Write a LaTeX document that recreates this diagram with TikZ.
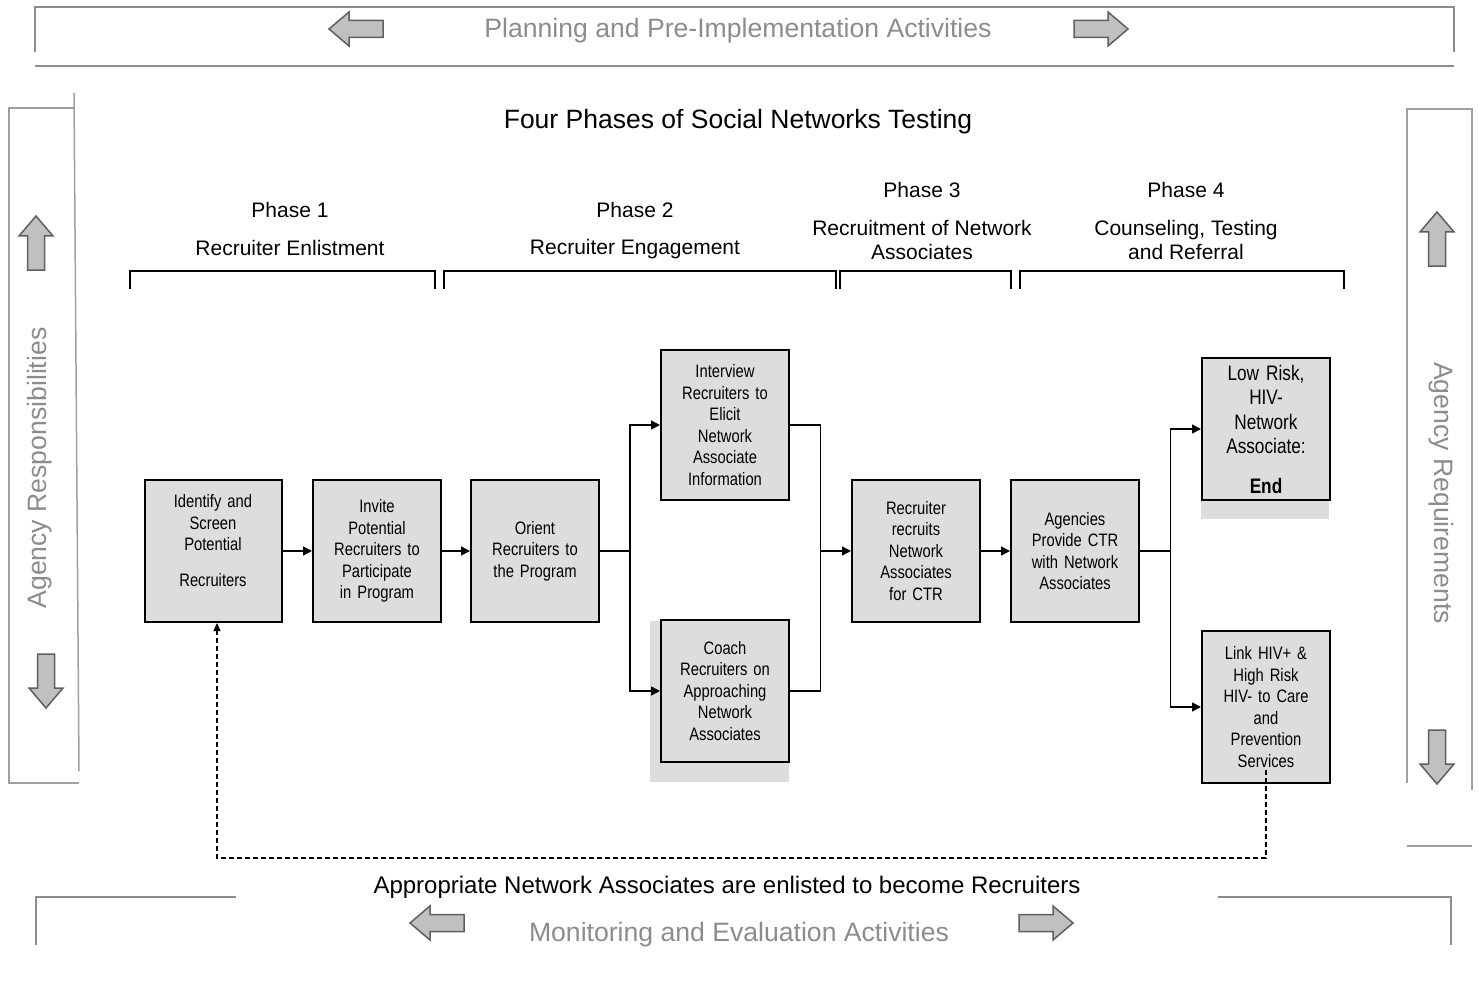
\documentclass[tikz,border=0pt]{standalone}
\usepackage{fontspec}
\setmainfont{Liberation Sans}
\newfontfamily\narrowfont{Liberation Sans}[FakeStretch=0.82]
\usepackage{tikz}
\usetikzlibrary{positioning,arrows.meta,calc}

\definecolor{boxgray}{HTML}{DDDDDD}
\definecolor{panelgray}{HTML}{8C8C8C}
\definecolor{linegray}{HTML}{A0A0A0}
\definecolor{fatfill}{HTML}{C0C0C0}
\definecolor{fatline}{HTML}{5F5F5F}

\tikzset{
  pics/fatarrow/.style={code={
    \draw[fill=fatfill, draw=fatline, line width=1.5pt]
      (-27,-8.5) -- (7,-8.5) -- (7,-17) -- (27,0) -- (7,17) -- (7,8.5) -- (-27,8.5) -- cycle;
  }}
}

\begin{document}
\begin{tikzpicture}[x=1pt, y=-1pt, on grid,
    box/.style={draw, line width=2pt, fill=boxgray, minimum width=128pt, minimum height=142pt,
      text width=122pt, align=center, inner sep=0pt, font=\narrowfont\fontsize{18}{21.5}\selectfont},
    line/.style={line width=1.5pt},
    arr/.style={line width=1.5pt, -{Triangle[length=9pt,width=9pt]}},
    backflow/.style={line width=1.2pt, dash pattern=on 5pt off 3pt, -{Triangle[length=8pt,width=7pt]}},
    panel/.style={draw=linegray, line width=1.5pt},
    paneltext/.style={text=panelgray, font=\fontsize{26.6}{30}\selectfont},
    phase/.style={align=center, font=\fontsize{21}{24}\selectfont},
    bracket/.style={line width=2pt}]

  \useasboundingbox (0,0) rectangle (1478,1003);

  % frames around the diagram
  \draw[panel, draw=panelgray, line width=2pt] (35,52) |- (1454,7) -- (1454,52);
  \draw[panel, draw=panelgray, line width=2pt] (35,66) -- (1454,66);
  \draw[panel] (74,108) -| (9,783) -- (79,783);
  \draw[panel] (74,93) -- (79,771);
  \draw[panel] (1407,783) |- (1472,109) -- (1472,790);
  \draw[panel] (1407,846) -- (1472,846);
  \draw[panel, draw=panelgray, line width=2pt] (36,945) |- (236,897);
  \draw[panel, draw=panelgray, line width=2pt] (1218,897) -| (1451,945);

  \node[paneltext] (plan) at (738,31) {Planning and Pre-Implementation Activities};
  \node[paneltext] (monitor) at (739,935) {Monitoring and Evaluation Activities};
  \node[paneltext, rotate=90] (resp) at (40,468) {Agency Responsibilities};
  \node[paneltext, rotate=-90] (req) at (1441,493) {Agency Requirements};

  \pic[rotate=180] at (356,29) {fatarrow};
  \pic at (1101,29) {fatarrow};
  \pic[rotate=180] at (437,923) {fatarrow};
  \pic at (1046,923) {fatarrow};
  \pic[rotate=90] at (36,243) {fatarrow};
  \pic[rotate=-90] at (46,681) {fatarrow};
  \pic[rotate=90] at (1437,239) {fatarrow};
  \pic[rotate=-90] at (1437,757) {fatarrow};

  % title and phases
  \node[font=\fontsize{26.5}{30}\selectfont] (title) at (738,122) {Four Phases of Social Networks Testing};

  \node[phase] (p1) at (290,210) {Phase 1};
  \node[phase] (p1t) at (290,248) {Recruiter Enlistment};
  \node[phase] (p2) at (635,210) {Phase 2};
  \node[phase] (p2t) at (635,249) {Recruiter Engagement};
  \node[phase] (p3) at (922,190) {Phase 3};
  \node[phase] (p3t) at (922,240) {Recruitment of Network\\Associates};
  \node[phase] (p4) at (1186,190) {Phase 4};
  \node[phase] (p4t) at (1186,240) {Counseling, Testing\\and Referral};

  \foreach \a/\b in {130/435, 444/836, 840/1011, 1020/1344}
    \draw[bracket] (\a,289) -- (\a,271) -- (\b,271) -- (\b,289);

  % shaded patches behind two boxes
  \fill[boxgray] (650,621) rectangle (789,782);
  \fill[boxgray] (1201,500) rectangle (1329,519);

  % steps
  \node[box, minimum width=137pt] (b1) at (213,551) {Identify and\\Screen\\Potential\\[14pt]Recruiters\\\mbox{}};
  \node[box] (b2) [right=164pt of b1] {Invite\\Potential\\Recruiters to\\Participate\\in Program};
  \node[box] (b3) [right=158pt of b2] {Orient\\Recruiters to\\the Program};
  \node[box, minimum height=150pt] (b4) [above right=126pt and 190pt of b3]
    {Interview\\Recruiters to\\Elicit\\Network\\Associate\\Information};
  \node[box] (b5) [below right=140pt and 190pt of b3] {Coach\\Recruiters on\\Approaching\\Network\\Associates};
  \node[box] (b6) [right=381pt of b3] {Recruiter\\recruits\\Network\\Associates\\for CTR};
  \node[box] (b7) [right=159pt of b6] {Agencies\\Provide CTR\\with Network\\Associates};
  \node[box, font=\narrowfont\fontsize{21}{24.5}\selectfont] (b8) [above right=122pt and 191pt of b7]
    {Low Risk,\\HIV-\\Network\\Associate:\\[15pt]\textbf{End}};
  \node[box, minimum height=152pt] (b9) [below right=156pt and 191pt of b7]
    {Link HIV+ \&\\High Risk\\HIV- to Care\\and\\Prevention\\Services};

  % connectors
  \coordinate (s1) at ($(b3.east)!.5!(b4.west |- b3.east)$);
  \coordinate (j1) at ($(b4.east |- b6.west)!.5!(b6.west)$);
  \coordinate (s2) at ($(b7.east)!.5!(b8.west |- b7.east)$);
  \coordinate (loop) at (1264,858);

  \draw[arr] (b1) -- (b2);
  \draw[arr] (b2) -- (b3);
  \draw[line] (b3) -- (s1);
  \draw[arr] (s1) |- (b4);
  \draw[arr] (s1) |- (b5);
  \draw[line] (b4) -| (j1) |- (b5);
  \draw[arr] (j1) -- (b6);
  \draw[arr] (b6) -- (b7);
  \draw[line] (b7) -- (s2);
  \draw[arr] (s2) |- (b8);
  \draw[arr] (s2) |- (b9);

  \draw[backflow] ([yshift=14pt]b9.south) -- (b9.south |- loop) -| ([xshift=4pt]b1.south);

  \node[font=\fontsize{24}{27}\selectfont] (enlist) at (727,887)
    {Appropriate Network Associates are enlisted to become Recruiters};

\end{tikzpicture}
\end{document}
